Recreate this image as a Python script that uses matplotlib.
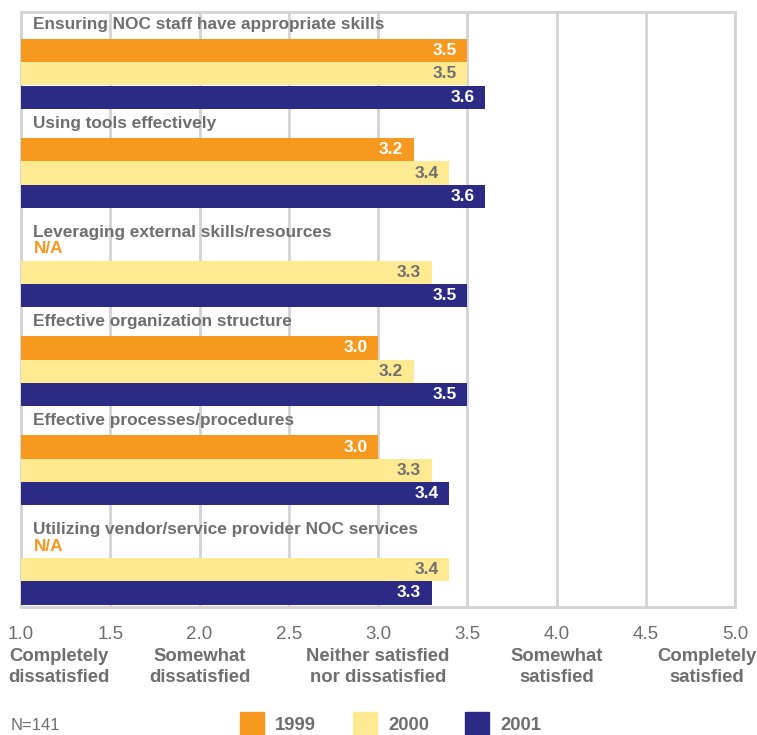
import matplotlib.pyplot as plt
from matplotlib.patches import Rectangle

plt.rcParams['font.family'] = ['Liberation Sans', 'DejaVu Sans']

categories = [
    "Ensuring NOC staff have appropriate skills",
    "Using tools effectively",
    "Leveraging external skills/resources",
    "Effective organization structure",
    "Effective processes/procedures",
    "Utilizing vendor/service provider NOC services",
]
years = ["1999", "2000", "2001"]
scores_1999 = [3.5, 3.2, None, 3.0, 3.0, None]
scores_2000 = [3.5, 3.4, 3.3, 3.2, 3.3, 3.4]
scores_2001 = [3.6, 3.6, 3.5, 3.5, 3.4, 3.3]
tick_values = [1.0, 1.5, 2.0, 2.5, 3.0, 3.5, 4.0, 4.5, 5.0]
scale_labels = {
    1.0: "Completely\ndissatisfied",
    2.0: "Somewhat\ndissatisfied",
    3.0: "Neither satisfied\nnor dissatisfied",
    4.0: "Somewhat\nsatisfied",
    5.0: "Completely\nsatisfied",
}

colors = ["#F7991E", "#FFE991", "#2B2A85"]
label_colors = ["white", "#707070", "white"]
gray = "#6E6E6E"

fig = plt.figure(figsize=(7.57, 7.35), dpi=100)
ax = fig.add_axes([21 / 757, 1 - 607 / 735, 714 / 757, 595 / 735])

group_gap = 4.25
bar_h = 1.0
for i, cat in enumerate(categories):
    g0 = i * group_gap
    first = g0 + 1.65
    missing = scores_1999[i] is None
    # groups without a 1999 value get the title pulled closer to the N/A note
    title_y = first - (0.72 if missing else 1.13)
    ax.text(1.07, title_y, cat, fontsize=12.4, fontweight="bold",
            color=gray, va="center", ha="left", zorder=4)
    for j, series in enumerate([scores_1999, scores_2000, scores_2001]):
        v = series[i]
        yc = first + j * bar_h
        if v is None:
            ax.text(1.07, yc, "N/A", fontsize=12.4, fontweight="bold",
                    color=colors[0], va="center", ha="left", zorder=4)
            continue
        ax.barh(yc, v - 1.0, left=1.0, height=bar_h, color=colors[j],
                edgecolor="none", zorder=3)
        ax.text(v - 0.06, yc, f"{v:.1f}", fontsize=12.5, fontweight="bold",
                color=label_colors[j], va="center", ha="right", zorder=4)

ax.set_xlim(1.0, 5.0)
ax.set_ylim(6 * group_gap, 0)
ax.set_xticks(tick_values)
ax.set_xticklabels([f"{t:.1f}" for t in tick_values],
                   fontsize=13.5, color=gray)
ax.set_yticks([])
ax.tick_params(axis="x", length=0, pad=14)
ax.grid(axis="x", color="#D3D3D3", linewidth=2, zorder=0)
for s in ax.spines.values():
    s.set_color("#D3D3D3")
    s.set_linewidth(2)

for val, txt in scale_labels.items():
    x = ax.transData.transform((val, 0))[0] / 757
    ha = "center"
    if val == 1.0:
        x = 8 / 757
        ha = "left"
    elif val == 5.0:
        x = 756 / 757
        ha = "right"
    fig.text(x, 1 - 667 / 735, txt, ha=ha, va="center", fontsize=13.3,
             fontweight="bold", color=gray, linespacing=1.25,
             multialignment="center")

fig.text(11 / 757, 1 - 726 / 735, "N=141", fontsize=12, color=gray,
         va="center", ha="left")
legend_x = [240, 353, 465]
for lx, year, c in zip(legend_x, years, colors):
    fig.patches.append(Rectangle((lx / 757, 0), 24 / 757, 23 / 735,
                                 transform=fig.transFigure, color=c,
                                 figure=fig))
    fig.text((lx + 35) / 757, 1 - 725 / 735, year, fontsize=13.3,
             fontweight="bold", color=gray, va="center", ha="left")

fig.savefig("out.png", dpi=100)
